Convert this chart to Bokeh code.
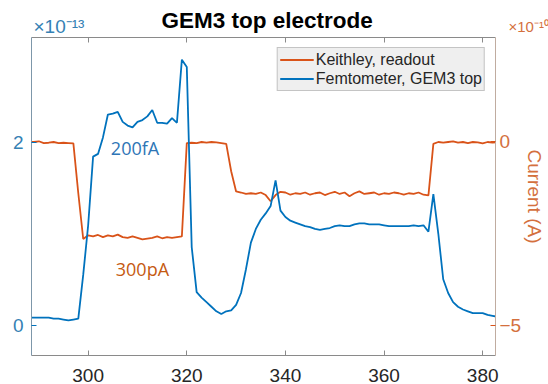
from bokeh.plotting import figure
from bokeh.models import (Range1d, LinearAxis, FixedTicker, Label, Legend, LegendItem,
                          ColumnDataSource, Title)
from bokeh.embed import file_html
from bokeh.resources import INLINE

# ---------------- data ----------------
time_s = [288, 289, 290, 291, 292, 293, 294, 295, 296, 297,
          298, 299, 300, 301, 302, 303, 304, 305, 306, 307,
          308, 309, 310, 311, 312, 313, 314, 315, 316, 317,
          318, 319, 320, 321, 322, 323, 324, 325, 326, 327,
          328, 329, 330, 331, 332, 333, 334, 335, 336, 337,
          338, 339, 340, 341, 342, 343, 344, 345, 346, 347,
          348, 349, 350, 351, 352, 353, 354, 355, 356, 357,
          358, 359, 360, 361, 362, 363, 364, 365, 366, 367,
          368, 369, 370, 371, 372, 373, 374, 375, 376, 377,
          378, 379, 380, 381, 382, 383]

# Femtometer, GEM3 top  (units of 1e-13 A, left axis)
femto = [0.08, 0.08, 0.08, 0.08, 0.08, 0.07, 0.07, 0.06, 0.05, 0.06,
         0.07, 0.55, 1.09, 1.84, 1.87, 2.05, 2.30, 2.31, 2.33, 2.22,
         2.18, 2.16, 2.22, 2.24, 2.28, 2.35, 2.21, 2.21, 2.20, 2.26,
         2.21, 2.90, 2.82, 0.85, 0.36, 0.30, 0.25, 0.20, 0.15, 0.12,
         0.15, 0.16, 0.22, 0.35, 0.61, 0.90, 1.05, 1.15, 1.22, 1.30,
         1.58, 1.25, 1.18, 1.14, 1.12, 1.10, 1.08, 1.07, 1.05, 1.04,
         1.05, 1.06, 1.08, 1.09, 1.08, 1.08, 1.10, 1.11, 1.11, 1.10,
         1.10, 1.10, 1.09, 1.08, 1.08, 1.08, 1.08, 1.08, 1.09, 1.08,
         1.09, 1.02, 1.43, 1.00, 0.50, 0.35, 0.25, 0.20, 0.17, 0.15,
         0.13, 0.13, 0.13, 0.11, 0.10, 0.09]

# Keithley, readout  (units of 1e-10 A, right axis)
keithley = [0.00, 0.00, 0.02, -0.03, -0.02, 0.00, -0.03, -0.02, -0.03, -0.04,
            -1.40, -2.65, -2.55, -2.58, -2.54, -2.60, -2.55, -2.58, -2.53, -2.60,
            -2.62, -2.58, -2.62, -2.66, -2.64, -2.62, -2.58, -2.63, -2.60, -2.62,
            -2.60, -2.58, -0.03, -0.02, -0.03, 0.00, -0.02, 0.00, -0.01, -0.03,
            -0.05, -0.80, -1.35, -1.38, -1.42, -1.40, -1.42, -1.38, -1.45, -1.62,
            -1.45, -1.36, -1.38, -1.44, -1.40, -1.42, -1.38, -1.44, -1.40, -1.38,
            -1.45, -1.40, -1.36, -1.42, -1.38, -1.48, -1.40, -1.35, -1.42, -1.40,
            -1.38, -1.44, -1.40, -1.42, -1.38, -1.40, -1.44, -1.40, -1.42, -1.38,
            -1.44, -1.46, -0.05, 0.00, -0.02, 0.00, 0.02, -0.02, 0.00, -0.03,
            0.00, -0.01, -0.04, 0.00, -0.02, 0.00]

x_ticks = [300, 320, 340, 360, 380]
left_ticks = [0, 2]
right_ticks = [-5, 0]

BLUE = "#0072BD"
ORANGE = "#D95319"
BLUE_TXT = "#3581b4"
ORANGE_TXT = "#d4703e"
FONT = "Liberation Sans"

src = ColumnDataSource(dict(t=time_s, femto=femto, keithley=keithley))

p = figure(width=548, height=384, output_backend="svg", toolbar_location=None,
           x_range=Range1d(288.51, 382.6), y_range=Range1d(-0.333, 3.142),
           min_border_left=31, min_border_right=50, min_border_top=37,
           min_border_bottom=29)
p.background_fill_color = "white"
p.border_fill_color = "white"
p.outline_line_color = None
p.grid.visible = False

p.extra_y_ranges = {"right": Range1d(-5.833, 2.855)}

# bottom axis
xa = p.xaxis[0]
xa.ticker = FixedTicker(ticks=x_ticks)
xa.major_tick_in = 5
xa.major_tick_out = 0
xa.minor_tick_line_color = None
xa.axis_line_color = "#8a8a8a"
xa.major_tick_line_color = "#8a8a8a"
xa.major_label_text_font = FONT
xa.major_label_text_font_size = "19px"
xa.major_label_text_color = "#262626"
xa.major_label_standoff = 13

# top axis (ticks only)
top = LinearAxis(ticker=FixedTicker(ticks=x_ticks), major_tick_in=5, major_tick_out=0,
                 minor_tick_line_color=None, axis_line_color="#8a8a8a",
                 major_tick_line_color="#8a8a8a", major_label_text_font_size="0px",
                 major_label_standoff=0)
p.add_layout(top, "above")


def add_title(text, size, color, style, align, offset, standoff):
    t = Title(text=text, text_font=FONT, text_font_size=size, text_color=color,
              text_font_style=style, align=align, offset=offset, standoff=standoff,
              vertical_align="bottom")
    p.add_layout(t, "above")


# spacer, axis exponents, title (stacked outward from the frame)
add_title(" ", "10px", "#ffffff", "normal", "left", 0, -0.9)
add_title("×10⁻¹³", "19px", BLUE_TXT, "normal", "left", 2, -23.2)
add_title("×10⁻¹⁰", "15px", ORANGE_TXT, "normal", "left", 477, -18.8)
add_title("GEM3 top electrode", "22.5px", "#000000", "bold", "left", 130, -14.8)

# left axis
ya = p.yaxis[0]
ya.ticker = FixedTicker(ticks=left_ticks)
ya.major_tick_in = 5
ya.major_tick_out = 0
ya.minor_tick_line_color = None
ya.axis_line_color = "#7d97aa"
ya.major_tick_line_color = BLUE
ya.major_label_text_font = FONT
ya.major_label_text_font_size = "19px"
ya.major_label_text_color = BLUE_TXT
ya.major_label_standoff = 8
ya.major_label_orientation = "horizontal"

# right axis
ra = LinearAxis(y_range_name="right", ticker=FixedTicker(ticks=right_ticks),
                major_tick_in=5, major_tick_out=0, minor_tick_line_color=None,
                axis_line_color="#c0aca0", major_tick_line_color=ORANGE,
                major_label_text_font=FONT, major_label_text_font_size="19px",
                major_label_text_color=ORANGE_TXT, major_label_standoff=4,
                axis_label="Current (A)", axis_label_text_font=FONT,
                axis_label_text_font_size="19px", axis_label_text_font_style="normal",
                axis_label_text_color=ORANGE_TXT, axis_label_standoff=0)
p.add_layout(ra, "right")

# lines
r_k = p.line("t", "keithley", source=src, y_range_name="right",
             line_color=ORANGE, line_width=1.8)
r_f = p.line("t", "femto", source=src, line_color=BLUE, line_width=1.8)

legend = Legend(items=[LegendItem(label="Keithley, readout", renderers=[r_k]),
                       LegendItem(label="Femtometer, GEM3 top", renderers=[r_f])],
                location="top_right", margin=10, padding=2, spacing=0,
                glyph_width=34, glyph_height=19, label_height=19, label_standoff=2,
                label_text_font=FONT, label_text_font_size="16px",
                label_text_color="#262626", background_fill_color="#efefef",
                background_fill_alpha=1.0, border_line_color="#9a9a9a",
                border_line_width=1)
p.add_layout(legend, "center")

# annotations
p.add_layout(Label(x=304.6, y=1.93, text="200fA", text_font="Open Sans",
                   text_font_size="18px", text_color="#2E75B6", text_baseline="middle",
                   text_align="left"))
p.add_layout(Label(x=305.6, y=0.607, text="300pA", text_font="Open Sans",
                   text_font_size="18px", text_color="#C55A11", text_baseline="middle",
                   text_align="left"))

open("out.html", "w").write(file_html(p, INLINE))
